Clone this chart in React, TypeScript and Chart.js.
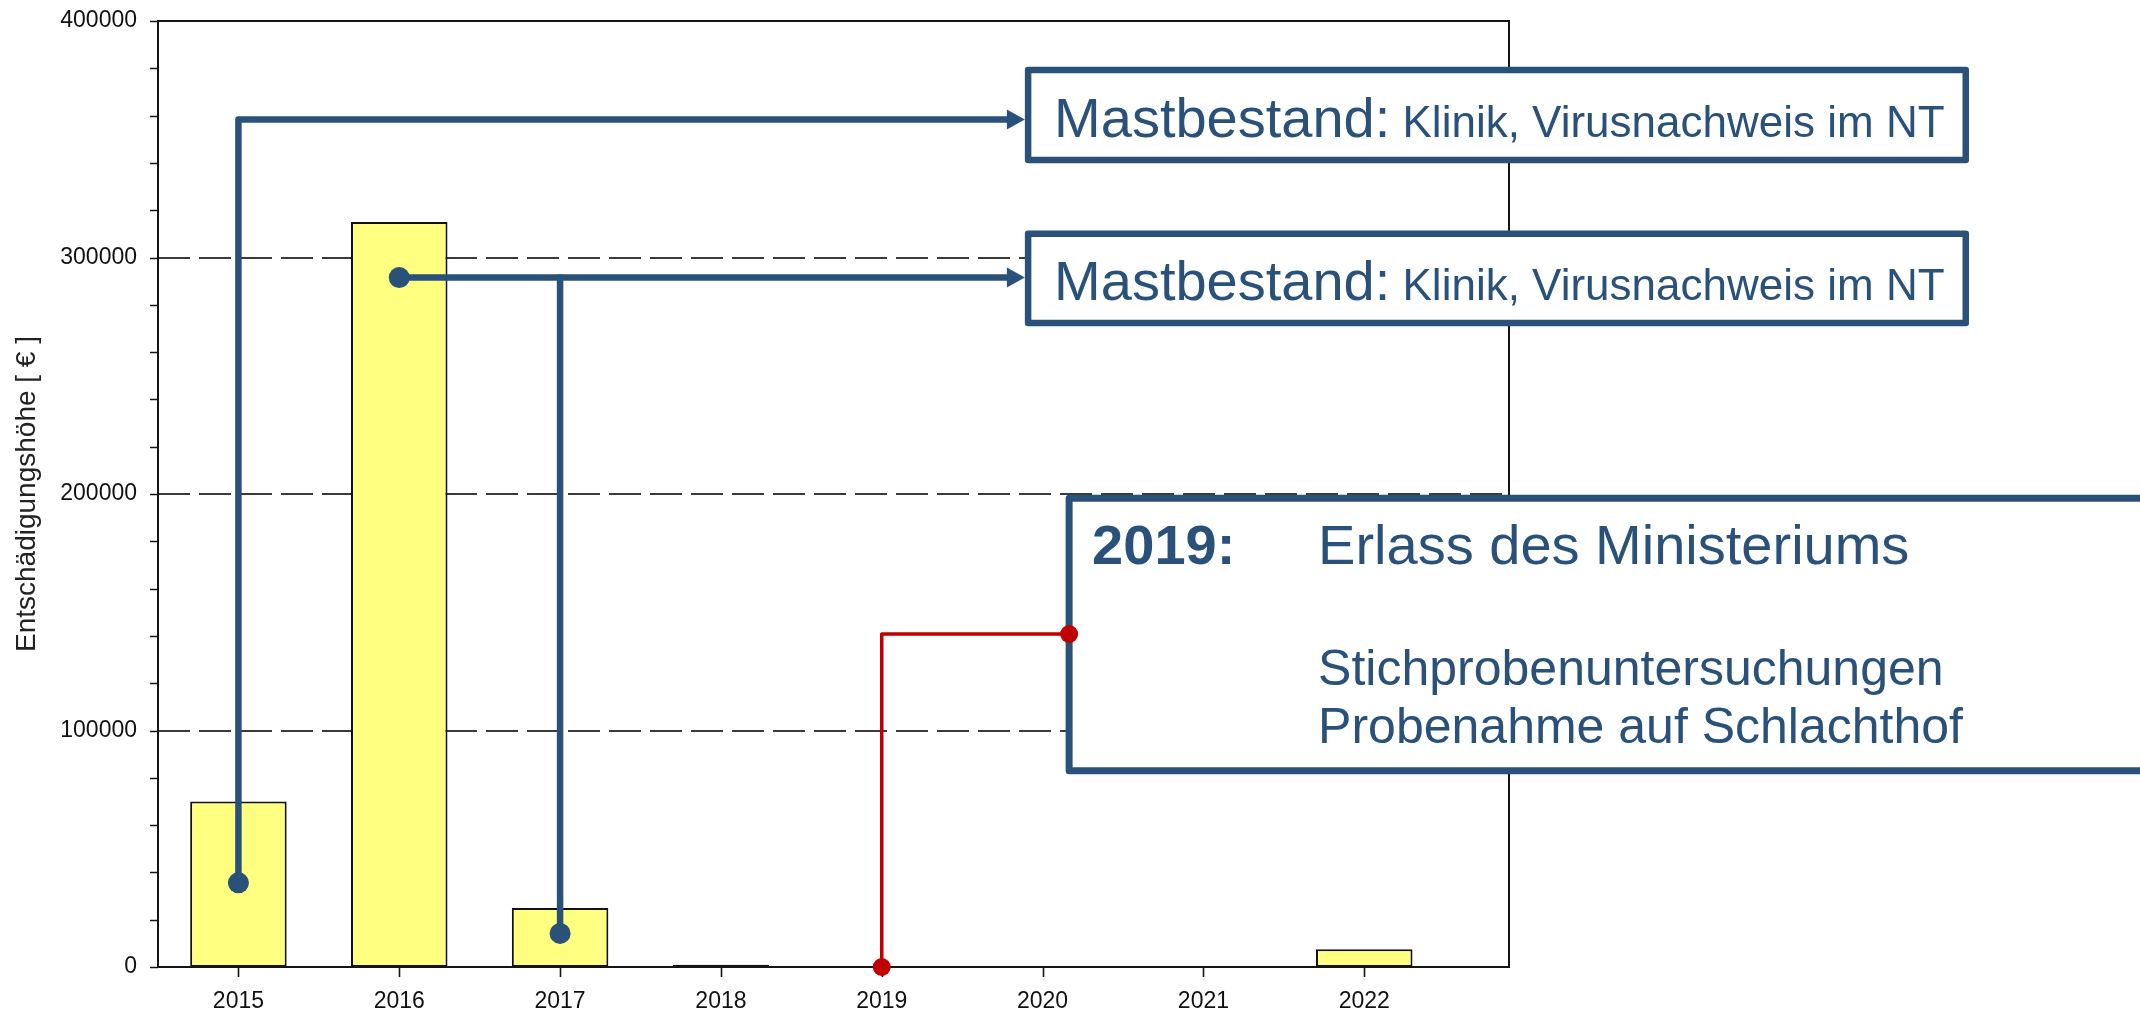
import React, { useEffect, useRef } from "react";
import { Chart, registerables } from "chart.js";

Chart.register(...registerables);

// ---------- data ----------
const years = [2015, 2016, 2017, 2018, 2019, 2020, 2021, 2022];
const compensation = [70000, 315000, 25000, 1000, 0, 0, 0, 7500];
const yMin = 0;
const yMax = 400000;
const yMajorStep = 100000;
const yMinorStep = 20000;
const dashedGridValues = [100000, 200000, 300000];
const xMin = 2014.5;
const xMax = 2022.9;
const yTitle = "Entschädigungshöhe [ € ]";

// ---------- callouts (in data units) ----------
const calloutHead = "Mastbestand:";
const calloutTail = " Klinik, Virusnachweis im NT";
const box1X = [2019.91, 2025.74];
const box1Y = [341200, 379300];
const box2X = [2019.91, 2025.74];
const box2Y = [272300, 310000];
const box3X = [2020.165, 2027];
const box3Y = [83000, 198200];
const box3Year = "2019:";
const box3Lines = ["Erlass des Ministeriums", "Stichprobenuntersuchungen", "Probenahme auf Schlachthof"];

const arrow1Start = { x: 2015, y: 35600 };
const arrow1CornerY = 358300;
const arrow2Start = { x: 2016, y: 291500 };
const arrow2Branch = { x: 2017, y: 14200 };
const redStart = { x: 2019, y: 0 };
const redCornerY = 140800;

// ---------- styles ----------
const BLUE = "#2A5179";
const RED = "#C00000";
const FONT = "'Liberation Sans', Arial, sans-serif";

const calloutPlugin = {
  id: "callouts",
  beforeDatasetsDraw(chart: any) {
    const { ctx, chartArea: ca, scales } = chart;
    const y = scales.y;
    ctx.save();
    ctx.strokeStyle = "#3a3a3a";
    ctx.lineWidth = 2;
    ctx.setLineDash([32, 9]);
    for (const v of dashedGridValues) {
      const py = Math.round(y.getPixelForValue(v));
      ctx.beginPath();
      ctx.moveTo(ca.left, py);
      ctx.lineTo(ca.right, py);
      ctx.stroke();
    }
    ctx.restore();
  },
  afterDatasetsDraw(chart: any) {
    const { ctx, chartArea: ca, scales } = chart;
    const x = scales.x;
    const y = scales.y;
    ctx.save();

    // frame
    ctx.strokeStyle = "#151515";
    ctx.lineWidth = 2;
    ctx.setLineDash([]);
    ctx.strokeRect(ca.left, ca.top, ca.right - ca.left, ca.bottom - ca.top);

    // y tick marks (major + minor)
    ctx.lineWidth = 1.6;
    ctx.beginPath();
    for (let v = yMin; v <= yMax; v += yMinorStep) {
      const py = Math.round(y.getPixelForValue(v)) + 0.5;
      ctx.moveTo(ca.left - 8, py);
      ctx.lineTo(ca.left, py);
    }
    // x tick marks
    for (const yr of years) {
      const px = Math.round(x.getPixelForValue(yr)) + 0.5;
      ctx.moveTo(px, ca.bottom);
      ctx.lineTo(px, ca.bottom + 10);
    }
    ctx.stroke();

    // boxes
    const drawBox = (bx: number[], by: number[], lw: number) => {
      const l = x.getPixelForValue(bx[0]);
      const r = x.getPixelForValue(bx[1]);
      const t = y.getPixelForValue(by[1]);
      const b = y.getPixelForValue(by[0]);
      ctx.fillStyle = "#ffffff";
      ctx.fillRect(l, t, r - l, b - t);
      ctx.strokeStyle = BLUE;
      ctx.lineWidth = lw;
      ctx.lineJoin = "round";
      ctx.strokeRect(l, t, r - l, b - t);
      return { l, r, t, b };
    };

    const drawMast = (bb: { l: number; r: number; t: number; b: number }) => {
      const base = (bb.t + bb.b) / 2 + 22;
      ctx.fillStyle = BLUE;
      ctx.textBaseline = "alphabetic";
      ctx.textAlign = "left";
      ctx.font = `56px ${FONT}`;
      ctx.fillText(calloutHead, bb.l + 26, base);
      const w = ctx.measureText(calloutHead).width;
      ctx.font = `44px ${FONT}`;
      ctx.fillText(calloutTail, bb.l + 26 + w, base);
    };

    const b1 = drawBox(box1X, box1Y, 6.5);
    drawMast(b1);
    const b2 = drawBox(box2X, box2Y, 6.5);
    drawMast(b2);
    const b3 = drawBox(box3X, box3Y, 7);
    ctx.fillStyle = BLUE;
    ctx.textAlign = "left";
    ctx.textBaseline = "alphabetic";
    ctx.font = `bold 56px ${FONT}`;
    ctx.fillText(box3Year, b3.l + 23, b3.t + 66);
    ctx.font = `56px ${FONT}`;
    ctx.fillText(box3Lines[0], b3.l + 249, b3.t + 66);
    ctx.font = `50px ${FONT}`;
    ctx.fillText(box3Lines[1], b3.l + 249, b3.t + 187);
    ctx.fillText(box3Lines[2], b3.l + 249, b3.t + 245);

    const dot = (px: number, py: number, r: number, color: string) => {
      ctx.fillStyle = color;
      ctx.beginPath();
      ctx.arc(px, py, r, 0, Math.PI * 2);
      ctx.fill();
    };
    const arrowHead = (tipX: number, py: number) => {
      ctx.fillStyle = BLUE;
      ctx.beginPath();
      ctx.moveTo(tipX - 18, py - 10);
      ctx.lineTo(tipX, py);
      ctx.lineTo(tipX - 18, py + 10);
      ctx.closePath();
      ctx.fill();
    };

    // connector 1 (2015)
    ctx.strokeStyle = BLUE;
    ctx.lineWidth = 6.5;
    ctx.lineJoin = "round";
    ctx.lineCap = "butt";
    {
      const px = x.getPixelForValue(arrow1Start.x);
      const py = y.getPixelForValue(arrow1Start.y);
      const cy = y.getPixelForValue(arrow1CornerY);
      const tip = b1.l - 3.25;
      ctx.beginPath();
      ctx.moveTo(px, py);
      ctx.lineTo(px, cy);
      ctx.lineTo(tip - 16, cy);
      ctx.stroke();
      arrowHead(tip, cy);
      dot(px, py, 10.5, BLUE);
    }
    // connector 2 (2016 + 2017)
    {
      const px = x.getPixelForValue(arrow2Start.x);
      const py = y.getPixelForValue(arrow2Start.y);
      const tip = b2.l - 3.25;
      ctx.strokeStyle = BLUE;
      ctx.beginPath();
      ctx.moveTo(px, py);
      ctx.lineTo(tip - 16, py);
      ctx.stroke();
      arrowHead(tip, py);
      const qx = x.getPixelForValue(arrow2Branch.x);
      const qy = y.getPixelForValue(arrow2Branch.y);
      ctx.beginPath();
      ctx.moveTo(qx, qy);
      ctx.lineTo(qx, py - 3);
      ctx.stroke();
      dot(px, py, 10.5, BLUE);
      dot(qx, qy, 10.5, BLUE);
    }
    // red connector (2019)
    {
      const px = x.getPixelForValue(redStart.x);
      const py = y.getPixelForValue(redStart.y);
      const cy = y.getPixelForValue(redCornerY);
      ctx.strokeStyle = RED;
      ctx.lineWidth = 3.5;
      ctx.beginPath();
      ctx.moveTo(px, py);
      ctx.lineTo(px, cy);
      ctx.lineTo(b3.l, cy);
      ctx.stroke();
      dot(px, py, 9, RED);
      dot(b3.l, cy, 9, RED);
    }

    ctx.restore();
  },
};

export default function App() {
  const ref = useRef<HTMLCanvasElement>(null);

  useEffect(() => {
    document.body.style.margin = "0";
    const canvas = ref.current;
    if (!canvas) return;
    const chart = new Chart(canvas, {
      type: "bar",
      data: {
        datasets: [
          {
            data: years.map((yr, i) => ({ x: yr, y: compensation[i] })),
            backgroundColor: "#FFFF80",
            borderColor: "#111111",
            borderWidth: 2,
            borderSkipped: false,
            barPercentage: 0.6,
            categoryPercentage: 1,
          },
        ],
      },
      options: {
        animation: false,
        responsive: false,
        devicePixelRatio: 1,
        layout: { padding: { top: 21, right: 631, bottom: 0, left: 0 } },
        plugins: {
          legend: { display: false },
          tooltip: { enabled: false },
        },
        scales: {
          x: {
            type: "linear",
            min: xMin,
            max: xMax,
            offset: false,
            grid: { display: false, drawTicks: false },
            border: { display: false },
            afterBuildTicks: (scale: any) => {
              scale.ticks = years.map((v) => ({ value: v }));
            },
            afterFit: (scale: any) => {
              scale.height = 50;
              scale.paddingLeft = 0;
              scale.paddingRight = 0;
            },
            ticks: {
              autoSkip: false,
              maxRotation: 0,
              padding: 21,
              color: "#111",
              font: { family: FONT, size: 23 },
              callback: (v: any) => String(v),
            },
          },
          y: {
            type: "linear",
            min: yMin,
            max: yMax,
            grid: { display: false, drawTicks: false },
            border: { display: false },
            afterFit: (scale: any) => {
              scale.width = 158;
              scale.paddingTop = 0;
              scale.paddingBottom = 0;
            },
            ticks: {
              stepSize: yMajorStep,
              padding: 21,
              color: "#111",
              font: { family: FONT, size: 23 },
              callback: (v: any) => String(v),
            },
            title: {
              display: true,
              text: yTitle,
              color: "#222",
              font: { family: FONT, size: 28 },
              padding: { top: 10, bottom: 0 },
            },
          },
        },
      },
      plugins: [calloutPlugin],
    } as any);
    return () => chart.destroy();
  }, []);

  return (
    <div style={{ position: "absolute", left: 0, top: 0, width: 2140, height: 1017, background: "#ffffff" }}>
      <canvas ref={ref} width={2140} height={1017} style={{ display: "block", width: 2140, height: 1017 }} />
    </div>
  );
}
